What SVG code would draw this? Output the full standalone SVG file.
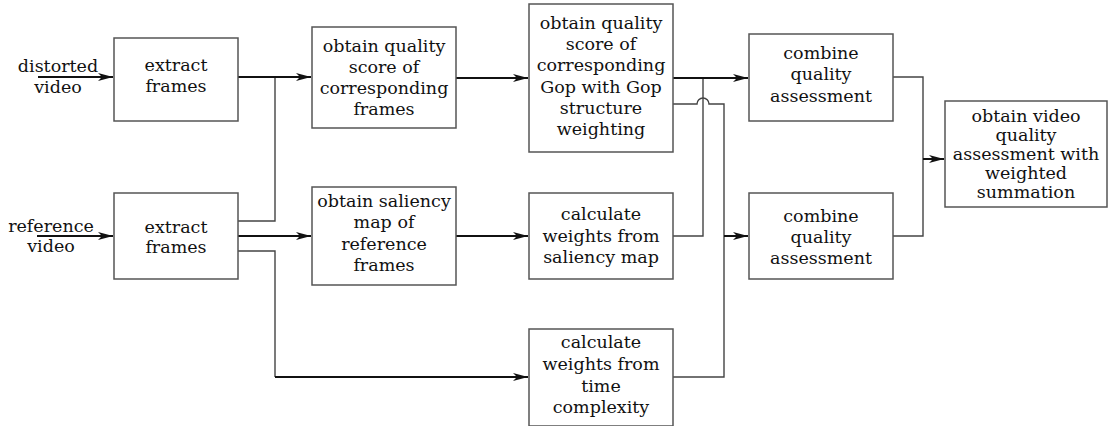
<svg xmlns="http://www.w3.org/2000/svg" width="1113" height="426" viewBox="0 0 1113 426">
<defs>
<marker id="arr" markerUnits="userSpaceOnUse" markerWidth="16" markerHeight="10" refX="15" refY="5" orient="auto">
<path d="M0,1 L15,5 L0,9 L4,5 z" fill="#111"/>
</marker>
<style>
.box{fill:#fff;stroke:#555;stroke-width:1.5}
text{font-family:"DejaVu Serif","Liberation Serif",serif;font-size:17.5px;fill:#111;text-anchor:middle}
.a{fill:none;stroke:#111;stroke-width:2;marker-end:url(#arr)}
.l{fill:none;stroke:#444;stroke-width:1.4}
</style>
</defs>
<rect width="1113" height="426" fill="#fff"/>
<g id="connectors">
<path class="l" d="M238,221 H275 V77"/>
<path class="l" d="M238,251 H275 V377"/>
<path class="l" d="M673,236 H703 V78"/>
<path class="l" d="M673,104 H697 A6,6 0 0 1 709,104 H724 V377 H673"/>
<path class="l" d="M893,77 H923 V236 H893"/>
<path class="a" d="M38,77 H113"/>
<path class="a" d="M37,236 H113"/>
<path class="a" d="M238,77 H311"/>
<path class="a" d="M238,236 H311"/>
<path class="a" d="M275,377 H528"/>
<path class="a" d="M456,78 H528"/>
<path class="a" d="M456,236 H528"/>
<path class="a" d="M673,78 H748"/>
<path class="a" d="M724,236 H748"/>
<path class="a" d="M923,159 H944"/>
</g>
<g id="input-distorted">
<text x="58" y="72">distorted</text>
<text x="58" y="93">video</text>
</g>
<g id="input-reference">
<text x="51" y="232">reference</text>
<text x="51" y="252">video</text>
</g>
<g id="extract1">
<rect class="box" x="114" y="38" width="124" height="83"/>
<text x="176" y="71">extract</text>
<text x="176" y="92">frames</text>
</g>
<g id="extract2">
<rect class="box" x="114" y="193" width="124" height="86"/>
<text x="176" y="233">extract</text>
<text x="176" y="253">frames</text>
</g>
<g id="quality-frames">
<rect class="box" x="312" y="27" width="144" height="101"/>
<text x="384" y="52">obtain quality</text>
<text x="384" y="73">score of</text>
<text x="384" y="94">corresponding</text>
<text x="384" y="115">frames</text>
</g>
<g id="quality-gop">
<rect class="box" x="529" y="4" width="144" height="148"/>
<text x="601" y="29">obtain quality</text>
<text x="601" y="50">score of</text>
<text x="601" y="71">corresponding</text>
<text x="601" y="93">Gop with Gop</text>
<text x="601" y="114">structure</text>
<text x="601" y="135">weighting</text>
</g>
<g id="saliency-map">
<rect class="box" x="312" y="187" width="144" height="98"/>
<text x="384" y="207">obtain saliency</text>
<text x="384" y="228">map of</text>
<text x="384" y="250">reference</text>
<text x="384" y="271">frames</text>
</g>
<g id="weights-saliency">
<rect class="box" x="529" y="193" width="144" height="86"/>
<text x="601" y="220">calculate</text>
<text x="601" y="242">weights from</text>
<text x="601" y="263">saliency map</text>
</g>
<g id="weights-time">
<rect class="box" x="529" y="329" width="144" height="97"/>
<text x="601" y="348">calculate</text>
<text x="601" y="370">weights from</text>
<text x="601" y="392">time</text>
<text x="601" y="413">complexity</text>
</g>
<g id="combine1">
<rect class="box" x="749" y="34" width="144" height="87"/>
<text x="821" y="59">combine</text>
<text x="821" y="80">quality</text>
<text x="821" y="102">assessment</text>
</g>
<g id="combine2">
<rect class="box" x="749" y="193" width="144" height="86"/>
<text x="821" y="222">combine</text>
<text x="821" y="243">quality</text>
<text x="821" y="264">assessment</text>
</g>
<g id="final">
<rect class="box" x="945" y="101" width="162" height="106"/>
<text x="1026" y="122">obtain video</text>
<text x="1026" y="141">quality</text>
<text x="1026" y="160">assessment with</text>
<text x="1026" y="179">weighted</text>
<text x="1026" y="198">summation</text>
</g>
</svg>
